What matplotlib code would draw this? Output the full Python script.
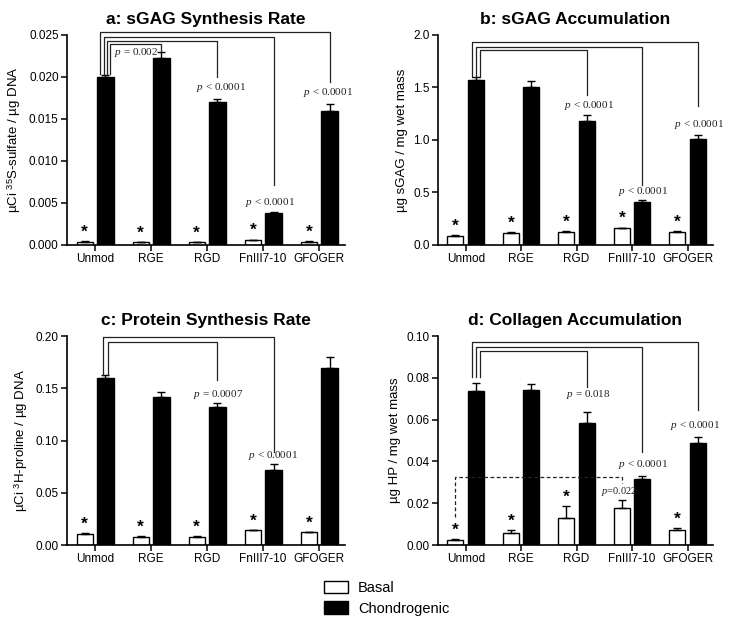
import matplotlib
matplotlib.use("Agg")
import matplotlib.pyplot as plt
import numpy as np
from matplotlib.patches import Patch

plt.rcParams['font.family'] = ['Liberation Sans', 'DejaVu Sans']
plt.rcParams['mathtext.fontset'] = 'custom'
plt.rcParams['mathtext.rm'] = 'Liberation Sans'
plt.rcParams['mathtext.it'] = 'Liberation Serif:italic'

# ========== data ==========
groups = ['Unmod', 'RGE', 'RGD', 'FnIII7-10', 'GFOGER']

a_basal = [0.0004, 0.0003, 0.0003, 0.0006, 0.0004]
a_basal_err = [0.00003, 0.00002, 0.00002, 0.00004, 0.00003]
a_chondro = [0.0200, 0.0222, 0.0170, 0.0038, 0.0160]
a_chondro_err = [0.0002, 0.0008, 0.0004, 0.0001, 0.0008]

b_basal = [0.09, 0.115, 0.125, 0.16, 0.125]
b_basal_err = [0.004, 0.004, 0.004, 0.006, 0.004]
b_chondro = [1.572, 1.50, 1.185, 0.412, 1.008]
b_chondro_err = [0.025, 0.057, 0.053, 0.015, 0.037]

c_basal = [0.011, 0.008, 0.008, 0.014, 0.012]
c_basal_err = [0.0005, 0.0003, 0.0003, 0.0005, 0.0004]
c_chondro = [0.1595, 0.142, 0.1317, 0.0718, 0.1697]
c_chondro_err = [0.003, 0.004, 0.0045, 0.006, 0.010]

d_basal = [0.0024, 0.0059, 0.0128, 0.0176, 0.0072]
d_basal_err = [0.0005, 0.0013, 0.0059, 0.0039, 0.0011]
d_chondro = [0.0738, 0.0742, 0.0582, 0.0314, 0.0490]
d_chondro_err = [0.0036, 0.0027, 0.0053, 0.0016, 0.0028]

# brackets: (target group, top line y, drop end y, label, label x, label y)
a_brackets = [(4, 0.0254, 0.0194, '< 0.0001', 4.16, 0.0181),
              (3, 0.0247, 0.00714, '< 0.0001', 3.13, 0.0051),
              (2, 0.0243, 0.0200, '< 0.0001', 2.25, 0.0187),
              (1, 0.0239, 0.0231, '= 0.002', 0.74, 0.0229)]
b_brackets = [(4, 1.93, 1.324, '< 0.0001', 4.2, 1.152),
              (3, 1.889, 0.571, '< 0.0001', 3.2, 0.508),
              (2, 1.857, 1.43, '< 0.0001', 2.22, 1.324)]
c_brackets = [(3, 0.199, 0.0893, '< 0.0001', 3.18, 0.0861),
              (2, 0.1946, 0.158, '= 0.0007', 2.2, 0.1442)]
d_brackets = [(4, 0.097, 0.0646, '< 0.0001', 4.14, 0.057),
              (3, 0.0949, 0.0446, '< 0.0001', 3.2, 0.0383),
              (2, 0.0928, 0.0755, '= 0.018', 2.22, 0.0718)]

star_a = [0, 1, 2, 3, 4]
star_d = [0, 1, 2, 4]

W = 0.29
OFF = 0.185


def draw_panel(ax, title, ylabel, basal, basal_err, chondro, chondro_err,
               ymax, ystep, fmt, brackets, left_bottom, stars, vspace):
    x = np.arange(len(groups))
    ax.bar(x - OFF, basal, W, color='white', edgecolor='black', linewidth=1)
    ax.bar(x + OFF, chondro, W, color='black', edgecolor='black', linewidth=1)
    ax.errorbar(x - OFF, basal, yerr=[np.zeros(len(x)), basal_err], fmt='none',
                ecolor='black', elinewidth=1, capsize=3, capthick=1)
    ax.errorbar(x + OFF, chondro, yerr=[np.zeros(len(x)), chondro_err], fmt='none',
                ecolor='black', elinewidth=1, capsize=3, capthick=1)

    for i in stars:
        ax.annotate('*', (x[i] - OFF, basal[i] + basal_err[i]), xytext=(0, 1),
                    textcoords='offset points', ha='center', va='bottom',
                    fontsize=12.5, fontweight='bold')

    n = len(brackets)
    for k, (t, top, drop, lab, lx, ly) in enumerate(brackets):
        xl = OFF - vspace * (n - 1) / 2 + k * vspace
        xr = t + OFF
        ax.plot([xl, xl, xr, xr], [left_bottom, top, top, drop], color='#222222',
                linewidth=0.9, clip_on=False)
        ax.text(lx, ly, r'$\mathit{p}$ ' + lab, ha='center', va='center',
                fontsize=8, family='Liberation Serif', color='#222222')

    ax.set_xlim(-0.5, 4.46)
    ax.set_ylim(0, ymax)
    ticks = np.arange(0, ymax + ystep / 2, ystep)
    ax.set_yticks(ticks)
    ax.set_yticklabels([fmt.format(v) for v in ticks], fontsize=8.5)
    ax.set_xticks(x)
    ax.set_xticklabels(groups, fontsize=8.5)
    ax.set_ylabel(ylabel, fontsize=9.5)
    ax.set_title(title, fontsize=12.5, fontweight='bold', pad=8)
    for s in ['top', 'right']:
        ax.spines[s].set_visible(False)
    for s in ['left', 'bottom']:
        ax.spines[s].set_linewidth(1.2)
    ax.tick_params(direction='out', length=4, width=1.1, pad=2)


fig = plt.figure(figsize=(7.34, 6.29), dpi=100)
ax_a = fig.add_axes([0.0913, 0.6105, 0.3787, 0.3339])
ax_b = fig.add_axes([0.5967, 0.6105, 0.3747, 0.3339])
ax_c = fig.add_axes([0.0913, 0.1335, 0.3787, 0.3323])
ax_d = fig.add_axes([0.5967, 0.1335, 0.3747, 0.3323])

draw_panel(ax_a, 'a: sGAG Synthesis Rate', r'µCi $^{35}$S-sulfate / µg DNA',
           a_basal, a_basal_err, a_chondro, a_chondro_err,
           0.025, 0.005, '{:.3f}', a_brackets, 0.0203, star_a, 0.06)
draw_panel(ax_b, 'b: sGAG Accumulation', 'µg sGAG / mg wet mass',
           b_basal, b_basal_err, b_chondro, b_chondro_err,
           2.0, 0.5, '{:.1f}', b_brackets, 1.597, star_a, 0.07)
draw_panel(ax_c, 'c: Protein Synthesis Rate', r'µCi $^{3}$H-proline / µg DNA',
           c_basal, c_basal_err, c_chondro, c_chondro_err,
           0.20, 0.05, '{:.2f}', c_brackets, 0.1627, star_a, 0.1)
draw_panel(ax_d, 'd: Collagen Accumulation', 'µg HP / mg wet mass',
           d_basal, d_basal_err, d_chondro, d_chondro_err,
           0.10, 0.02, '{:.2f}', d_brackets, 0.0804, star_d, 0.07)

# dashed bracket between basal Unmod and basal FnIII7-10 in panel d
ax_d.plot([0 - OFF, 0 - OFF, 3 - OFF, 3 - OFF], [0.0136, 0.0324, 0.0324, 0.0295],
          color='#222222', linewidth=0.9, linestyle=(0, (3, 2)))
ax_d.text(2.76, 0.0255, r'$\mathit{p}$=0.022', ha='center', va='center',
          fontsize=7.5, family='Liberation Serif', color='#222222')

handles = [Patch(facecolor='white', edgecolor='black', linewidth=1),
           Patch(facecolor='black', edgecolor='black', linewidth=1)]
fig.legend(handles, ['Basal', 'Chondrogenic'], loc='center',
           bbox_to_anchor=(0.527, 0.049), frameon=False, fontsize=10.5,
           handlelength=1.6, handleheight=0.9, handletextpad=0.7,
           labelspacing=0.45)

fig.savefig('out.png', dpi=100)
